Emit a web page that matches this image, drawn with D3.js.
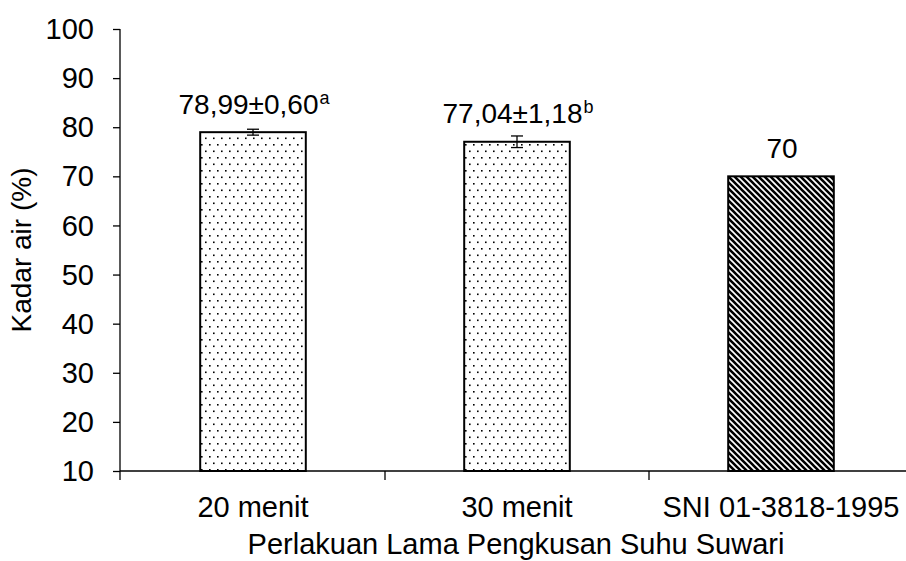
<!DOCTYPE html>
<html><head><meta charset="utf-8">
<script src="https://cdn.jsdelivr.net/npm/d3@7"></script>
<style>body{margin:0;background:#fff}svg{display:block}text{font-family:"Liberation Sans",Arial,sans-serif;fill:#000}</style>
</head><body>
<svg id="c" width="906" height="561"></svg>
<script>
const categories = ["20 menit", "30 menit", "SNI 01-3818-1995"];
const values = [78.99, 77.04, 70];
const errors = [0.60, 1.18, null];
const valueLabels = ["78,99±0,60", "77,04±1,18", "70"];
const superscripts = ["a", "b", ""];
const patterns = ["dots", "dots", "diag"];
const yTicks = [10, 20, 30, 40, 50, 60, 70, 80, 90, 100];

const FS = "29px";
const svg = d3.select("#c");
const defs = svg.append("defs");
const pd = defs.append("pattern").attr("id", "dots").attr("patternUnits", "userSpaceOnUse")
  .attr("width", 8).attr("height", 13);
pd.append("rect").attr("width", 8).attr("height", 13).attr("fill", "#fff");
pd.append("rect").attr("x", 1).attr("y", 1).attr("width", 1.6).attr("height", 1.6).attr("fill", "#000");
pd.append("rect").attr("x", 5).attr("y", 7.5).attr("width", 1.6).attr("height", 1.6).attr("fill", "#000");
const pg = defs.append("pattern").attr("id", "diag").attr("patternUnits", "userSpaceOnUse")
  .attr("width", 6).attr("height", 6);
pg.append("rect").attr("width", 6).attr("height", 6).attr("fill", "#fff");
pg.append("path").attr("d", "M-1,-1L7,7M-4,2L2,8M2,-4L8,2").attr("stroke", "#000").attr("stroke-width", 2.6);

const x = d3.scaleBand().domain(categories).range([121, 913]).paddingInner(0.6).paddingOuter(0.3);
const y = d3.scaleLinear().domain([10, 100]).range([471, 29]);

// Y axis
const ya = svg.append("g").attr("transform", "translate(120,0)")
  .call(d3.axisLeft(y).tickValues(yTicks).tickSize(7).tickPadding(19));
ya.select(".domain").attr("stroke", "#000").attr("stroke-width", 1.3).attr("d", `M0,${y(100)}V${y(10)}`);
ya.selectAll(".tick line").attr("stroke", "#000").attr("stroke-width", 1.3);
ya.selectAll(".tick text").style("font-size", FS).attr("fill", "#000").attr("dy", "0.33em");

// bars
svg.selectAll(".bar").data(categories).enter().append("rect")
  .attr("x", d => x(d)).attr("width", x.bandwidth())
  .attr("y", (d, i) => y(values[i])).attr("height", (d, i) => y(10) - y(values[i]))
  .attr("fill", (d, i) => `url(#${patterns[i]})`).attr("stroke", "#000").attr("stroke-width", 2);

// X axis
const step = x.step();
svg.append("line").attr("x1", 120).attr("x2", 906).attr("y1", y(10)).attr("y2", y(10))
  .attr("stroke", "#000").attr("stroke-width", 1.3);
const bounds = [120].concat(categories.slice(1).map(c => x(c) - x.paddingInner() * step / 2));
svg.selectAll(".xt").data(bounds).enter().append("line")
  .attr("x1", d => d).attr("x2", d => d).attr("y1", y(10)).attr("y2", y(10) + 9)
  .attr("stroke", "#000").attr("stroke-width", 1.3);
svg.selectAll(".xl").data(categories).enter().append("text")
  .attr("x", d => x(d) + x.bandwidth() / 2).attr("y", 517).attr("text-anchor", "middle")
  .style("font-size", FS).text(d => d);

// error bars
categories.forEach((c, i) => {
  if (errors[i] == null) return;
  const cx = x(c) + x.bandwidth() / 2;
  const g = svg.append("g").attr("stroke", "#000").attr("stroke-width", 1.3);
  g.append("line").attr("x1", cx).attr("x2", cx).attr("y1", y(values[i] + errors[i])).attr("y2", y(values[i] - errors[i]));
  [values[i] + errors[i], values[i] - errors[i]].forEach(v => {
    g.append("line").attr("x1", cx - 6).attr("x2", cx + 6).attr("y1", y(v)).attr("y2", y(v));
  });
});

// value labels
categories.forEach((c, i) => {
  const cx = x(c) + x.bandwidth() / 2;
  const by = y(values[i]) - 18.5;
  const t = svg.append("text").attr("x", cx + 1).attr("y", by).attr("text-anchor", "middle").style("font-size", "28px");
  t.append("tspan").text(valueLabels[i]);
  if (superscripts[i]) t.append("tspan").attr("dx", 1).attr("dy", -10).style("font-size", "18px").text(superscripts[i]);
});

// axis titles
svg.append("text").attr("x", 516).attr("y", 554).attr("text-anchor", "middle").style("font-size", FS)
  .text("Perlakuan Lama Pengkusan Suhu Suwari");
svg.append("text").attr("transform", "translate(31,250) rotate(-90)").attr("text-anchor", "middle").style("font-size", "28px")
  .text("Kadar air (%)");
</script>
</body></html>
